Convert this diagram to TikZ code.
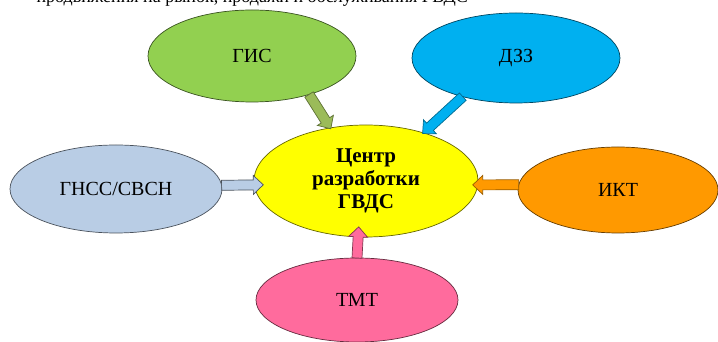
\documentclass[tikz,border=0pt]{standalone}
\usepackage{fontspec}
\setmainfont{Liberation Serif}
\usetikzlibrary{shapes.geometric,calc}

\definecolor{gisgreen}{HTML}{92D050}
\definecolor{dzzblue}{HTML}{00B0F0}
\definecolor{centryellow}{HTML}{FFFF00}
\definecolor{gnssblue}{HTML}{B9CDE5}
\definecolor{iktorange}{HTML}{FF9900}
\definecolor{tmtpink}{HTML}{FF6B9D}
\definecolor{arrgreen}{HTML}{9BBB59}

% block arrow: from, to, overlap, fill, draw
\newcommand{\blockarr}[5]{%
  \coordinate (ba-s) at (#1);
  \coordinate (ba-t) at ($(#2)!-#3!(#1)$);
  \coordinate (ba-h) at ($(ba-t)!10pt!(ba-s)$);
  \filldraw[fill=#4,draw=#5,line width=0.7pt]
    ($(ba-s)!5pt!90:(ba-t)$) -- ($(ba-h)!5pt!90:(ba-t)$) -- ($(ba-h)!9.5pt!90:(ba-t)$) -- (ba-t)
    -- ($(ba-h)!9.5pt!-90:(ba-t)$) -- ($(ba-h)!5pt!-90:(ba-t)$) -- ($(ba-s)!5pt!-90:(ba-t)$) -- cycle;
}

\begin{document}
\begin{tikzpicture}[x=1pt,y=1pt,
    oval/.style={ellipse,draw=#1!40!black,fill=#1,inner sep=0pt,outer sep=0pt,
      line width=0.7pt,font=\fontsize{20}{22}\selectfont}]
    \useasboundingbox (0,0) rectangle (718,342);
    \node[anchor=base west,font=\fontsize{18}{20}\selectfont] (title) at (33,339)
      {продвижения на рынок, продажи и обслуживания ГВДС};

    \node[oval=gisgreen,minimum width=208,minimum height=92] (gis) at (252,286) {ГИС};
    \node[oval=dzzblue,minimum width=208,minimum height=90] (dzz) at (516,284) {ДЗЗ};
    \node[oval=gnssblue,minimum width=212,minimum height=88] (gnss) at (116,153) {ГНСС/СВСН};
    \node[oval=iktorange,minimum width=200,minimum height=86] (ikt) at (618,152) {ИКТ};
    \node[oval=tmtpink,minimum width=202,minimum height=84] (tmt) at (357,42) {ТМТ};
    \node[oval=centryellow,minimum width=224,minimum height=112,align=center,
      font=\fontsize{21}{23}\selectfont\bfseries] (centr) at (366,161)
      {Центр\\разработки\\ГВДС};

    \blockarr{gis.-34}{centr.124}{1pt}{arrgreen}{arrgreen!60!black}
    \blockarr{dzz.-144}{centr.40}{1pt}{dzzblue}{dzzblue!60!black}
    \blockarr{gnss.2}{centr.182}{9pt}{gnssblue}{gnssblue!40!black}
    \blockarr{ikt.177}{centr.-2}{5pt}{iktorange}{iktorange!60!black}
    \blockarr{tmt.north}{centr.-98}{10pt}{tmtpink}{tmtpink!50!black}
\end{tikzpicture}
\end{document}
